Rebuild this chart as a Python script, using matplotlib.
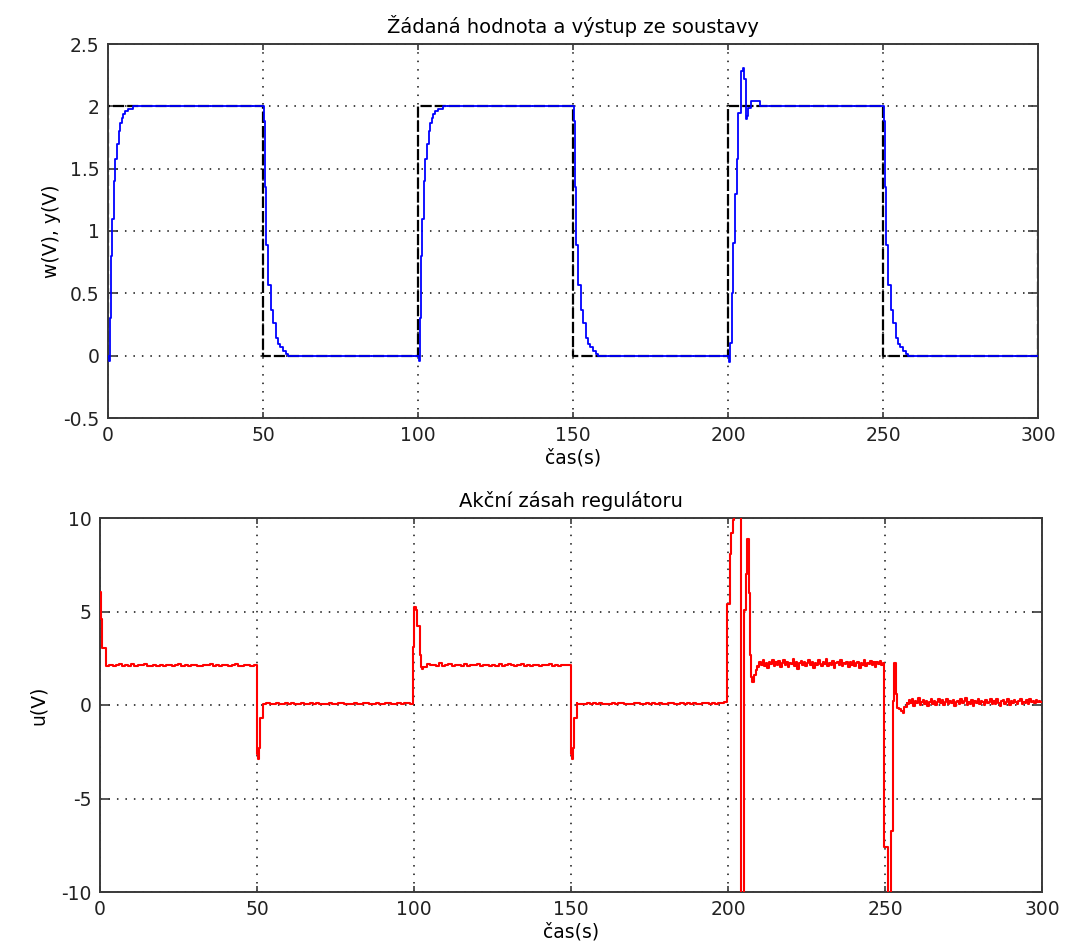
import numpy as np
import matplotlib
matplotlib.use("Agg")
import matplotlib.pyplot as plt

plt.rcParams['font.family'] = ['DejaVu Sans']
plt.rcParams['lines.scale_dashes'] = False

# ---------------- data ----------------
# setpoint w (V)
w_t = [0, 0, 50, 50, 100, 100, 150, 150, 200, 200, 250, 250, 300, 300]
w_v = [0, 2, 2, 0, 0, 2, 2, 0, 0, 2, 2, 0, 0, 1]

# plant output y (V): transient shapes (time relative to switch instant)
rise_t = [0, 0.3, 0.6, 1.0, 1.4, 1.9, 2.3, 2.8, 3.4, 3.9, 4.4, 4.8, 5.5, 6.5, 8.0]
rise_v = [0, -0.04, 0.3, 0.8, 1.1, 1.4, 1.58, 1.7, 1.8, 1.87, 1.91, 1.94, 1.96, 1.98, 2.0]
fall_t = [0, 0.3, 0.7, 1.0, 1.7, 2.5, 3.1, 4.1, 4.7, 5.5, 6.6, 7.4, 8.2]
fall_v = [2, 1.88, 1.35, 0.89, 0.57, 0.37, 0.26, 0.14, 0.09, 0.07, 0.035, 0.015, 0.0]
over_t = [0, 0.4, 0.8, 1.2, 1.7, 2.2, 2.8, 3.3, 4.3, 4.8, 5.0, 5.7, 6.2, 6.5, 7.3, 8.7, 10.3]
over_v = [0, -0.05, 0.1, 0.5, 0.9, 1.3, 1.58, 1.95, 2.28, 2.31, 2.22, 1.9, 1.92, 1.99, 2.04, 2.04, 2.0]
y_switch = [0, 50, 100, 150, 200, 250]
y_shape = ['rise', 'fall', 'rise', 'fall', 'over', 'fall']

# controller action u (V): transients (absolute time) and noisy plateaus
u0_t = [0, 0.3, 0.7, 1.8]
u0_v = [6.06, 4.6, 3.03, 2.14]
p1 = [2.10, 2.16, 2.08, 2.14, 2.18, 2.09, 2.13, 2.11, 2.17, 2.07, 2.15, 2.12, 2.19, 2.10, 2.06, 2.14,
      2.11, 2.16, 2.09, 2.13, 2.15, 2.08, 2.12, 2.17, 2.10, 2.14, 2.07, 2.13, 2.16, 2.11, 2.09, 2.15,
      2.12, 2.18, 2.08, 2.13, 2.10, 2.16, 2.12, 2.09, 2.14, 2.17, 2.11, 2.08, 2.15, 2.12, 2.10, 2.14]
u50_t = [49.9, 50.2, 50.6, 51.1, 51.8]
u50_v = [-2.6, -2.9, -2.3, -0.7, 0.05]
p2 = [0.05, 0.09, 0.04, 0.08, 0.11, 0.06, 0.03, 0.09, 0.07, 0.10, 0.05, 0.08, 0.12, 0.06, 0.04, 0.09,
      0.07, 0.11, 0.05, 0.08, 0.06, 0.10, 0.03, 0.07, 0.09, 0.12, 0.06, 0.08, 0.05, 0.10, 0.07, 0.04,
      0.09, 0.11, 0.06, 0.08, 0.13, 0.07, 0.05, 0.09, 0.10, 0.06, 0.08, 0.12, 0.07, 0.09, 0.11, 0.08]
u100_t = [99.7, 100.0, 100.5, 101.1, 101.9, 102.3, 102.7]
u100_v = [3.1, 5.25, 5.1, 4.2, 2.7, 2.05, 1.9]
p3 = [2.02, 2.20, 2.12, 2.15, 2.08, 2.22, 2.10, 2.14, 2.17, 2.09, 2.13, 2.16, 2.11, 2.18, 2.07, 2.14,
      2.12, 2.19, 2.10, 2.13, 2.16, 2.09, 2.15, 2.11, 2.20, 2.08, 2.13, 2.17, 2.12, 2.10, 2.15, 2.18,
      2.09, 2.14, 2.11, 2.16, 2.13, 2.08, 2.15, 2.12, 2.17, 2.10, 2.14, 2.11, 2.16, 2.13, 2.12]
u150_t = [149.9, 150.2, 150.6, 151.1, 151.8]
u150_v = [-2.6, -2.9, -2.3, -0.7, 0.1]
p4 = [0.04, 0.08, 0.06, 0.10, 0.05, 0.09, 0.07, 0.12, 0.06, 0.08, 0.04, 0.10, 0.07, 0.09, 0.11, 0.05,
      0.08, 0.06, 0.10, 0.13, 0.07, 0.05, 0.09, 0.08, 0.11, 0.06, 0.10, 0.07, 0.04, 0.09, 0.12, 0.08,
      0.06, 0.10, 0.07, 0.09, 0.05, 0.11, 0.08, 0.06, 0.10, 0.13, 0.07, 0.09, 0.08, 0.11, 0.10, 0.15]
u200_t = [199.8, 200.6, 201.0, 201.5, 201.8, 204.2, 205.0, 205.6, 206.2, 206.6, 206.9, 207.4, 207.8,
          208.3, 208.8, 209.2]
u200_v = [5.4, 8.1, 9.2, 9.9, 12.0, -12.0, 5.1, 7.0, 8.9, 6.0, 2.7, 1.5, 1.25, 1.6, 1.85, 2.1]
p5 = [2.05, 2.30, 2.15, 2.38, 2.10, 2.25, 1.98, 2.32, 2.20, 2.42, 2.08, 2.28, 2.15, 2.35, 2.02, 2.22,
      2.40, 2.12, 2.30, 2.05, 2.26, 2.18, 2.44, 2.10, 2.28, 1.95, 2.22, 2.36, 2.14, 2.30, 2.08, 2.25,
      2.40, 2.16, 2.32, 2.00, 2.24, 2.12, 2.38, 2.20, 2.06, 2.30, 2.18, 2.45, 2.10, 2.26, 2.14, 2.34,
      1.96, 2.22, 2.30, 2.12, 2.38, 2.08, 2.24, 2.18, 2.32, 2.04, 2.28, 2.16, 2.36, 2.10, 2.22, 2.30,
      1.98, 2.26, 2.14, 2.40, 2.08, 2.24, 2.18, 2.34, 2.12, 2.28, 2.05, 2.30, 2.20, 2.36, 2.15, 2.25]
u250_t = [249.8, 250.9, 251.9, 252.6, 253.0, 253.4, 253.7, 254.5, 255.0, 255.6, 256.2, 256.9]
u250_v = [-7.6, -10.5, -6.75, 0.2, 2.27, 0.57, -0.14, -0.2, -0.3, -0.41, -0.1, 0.1]
p6 = [0.05, 0.25, 0.10, 0.30, -0.05, 0.20, 0.12, 0.35, 0.02, 0.18, 0.28, 0.06, 0.22, -0.08, 0.15, 0.32,
      0.08, 0.24, 0.00, 0.18, 0.30, 0.10, 0.26, -0.02, 0.14, 0.34, 0.06, 0.20, 0.12, 0.28, -0.06, 0.16,
      0.24, 0.04, 0.30, 0.10, 0.22, 0.36, 0.02, 0.18, 0.08, 0.26, -0.04, 0.20, 0.12, 0.32, 0.06, 0.24,
      0.14, -0.02, 0.28, 0.10, 0.18, 0.34, 0.04, 0.22, 0.08, 0.30, 0.12, -0.06, 0.20, 0.26, 0.06, 0.16,
      0.32, 0.02, 0.24, 0.10, 0.28, 0.14, 0.04, 0.22, 0.30, 0.08, 0.18, 0.12, 0.26, 0.06, 0.34, 0.16,
      0.20, 0.10, 0.28, 0.14, 0.24, 0.18]
plateau_spans = [(2.0, 49.9), (52.0, 99.7), (103.0, 149.9), (152.0, 199.8), (209.5, 249.8), (257.0, 300.0)]

x_ticks = [0, 50, 100, 150, 200, 250, 300]
y1_ticks = [-0.5, 0, 0.5, 1, 1.5, 2, 2.5]
y1_labels = ['-0.5', '0', '0.5', '1', '1.5', '2', '2.5']
y2_ticks = [-10, -5, 0, 5, 10]
y2_labels = ['-10', '-5', '0', '5', '10']

title1 = 'Žádaná hodnota a výstup ze soustavy'
title2 = 'Akční zásah regulátoru'
xlab = 'čas(s)'
ylab1 = 'w(V), y(V)'
ylab2 = 'u(V)'

# ---------------- assemble series ----------------
shapes = {'rise': (rise_t, rise_v), 'fall': (fall_t, fall_v), 'over': (over_t, over_v)}
yt, yv = [], []
for s, name in zip(y_switch, y_shape):
    tt, vv = shapes[name]
    yt += [s + t for t in tt]
    yv += list(vv)
yt.append(300.0)
yv.append(yv[-1])


def plateau(vals, span):
    a, b = span
    return list(a + np.arange(len(vals)) * (b - a) / len(vals)), list(vals)


ut, uv = list(u0_t), list(u0_v)
for (tr_t, tr_v), pv, sp in [((None, None), p1, plateau_spans[0]),
                             ((u50_t, u50_v), p2, plateau_spans[1]),
                             ((u100_t, u100_v), p3, plateau_spans[2]),
                             ((u150_t, u150_v), p4, plateau_spans[3]),
                             ((u200_t, u200_v), p5, plateau_spans[4]),
                             ((u250_t, u250_v), p6, plateau_spans[5])]:
    if tr_t is not None:
        ut += list(tr_t)
        uv += list(tr_v)
    pt, pvv = plateau(pv, sp)
    ut += pt
    uv += pvv
ut.append(300.0)
uv.append(uv[-1])

# ---------------- figure ----------------
W, H = 1065, 942
fig = plt.figure(figsize=(W / 100, H / 100), dpi=100)
ax1 = fig.add_axes([108 / W, 1 - 418 / H, 930 / W, 374 / H])
ax2 = fig.add_axes([100 / W, 1 - 892 / H, 942 / W, 374 / H])

fs = 13.5
fs_t = 14
spine_c = '#3a3a3a'
for ax in (ax1, ax2):
    for sp in ax.spines.values():
        sp.set_linewidth(1.4)
        sp.set_color(spine_c)
    ax.tick_params(direction='in', top=True, right=True, labelsize=fs, colors=spine_c,
                   labelcolor='#222222', width=1.2, pad=6)
    ax.tick_params(axis='x', length=4)
    ax.tick_params(axis='y', length=7)
    ax.grid(True, color='#111111', linestyle=(0, (1.1, 5.0)), linewidth=1.1)
    ax.set_axisbelow(True)
    ax.set_xlim(0, 300)
    ax.set_xticks(x_ticks)
    ax.set_xticklabels([str(v) for v in x_ticks])

ax1.plot(w_t, w_v, color='black', linewidth=1.6, dashes=(8, 2.2), zorder=2)
ax1.plot(yt, yv, color='#0000ff', linewidth=1.3, drawstyle='steps-post', zorder=3)
ax1.set_ylim(-0.5, 2.5)
ax1.set_yticks(y1_ticks)
ax1.set_yticklabels(y1_labels)
ax1.set_title(title1, fontsize=fs_t, pad=8)
ax1.set_xlabel(xlab, fontsize=fs, labelpad=2)
ax1.set_ylabel(ylab1, fontsize=fs, labelpad=2)

ax2.plot(ut, uv, color='#ff0000', linewidth=1.5, drawstyle='steps-post', zorder=3)
ax2.set_ylim(-10, 10)
ax2.set_yticks(y2_ticks)
ax2.set_yticklabels(y2_labels)
ax2.set_title(title2, fontsize=fs_t, pad=8)
ax2.set_xlabel(xlab, fontsize=fs, labelpad=2)
ax2.set_ylabel(ylab2, fontsize=fs, labelpad=10)

fig.savefig('out.png', dpi=100)
